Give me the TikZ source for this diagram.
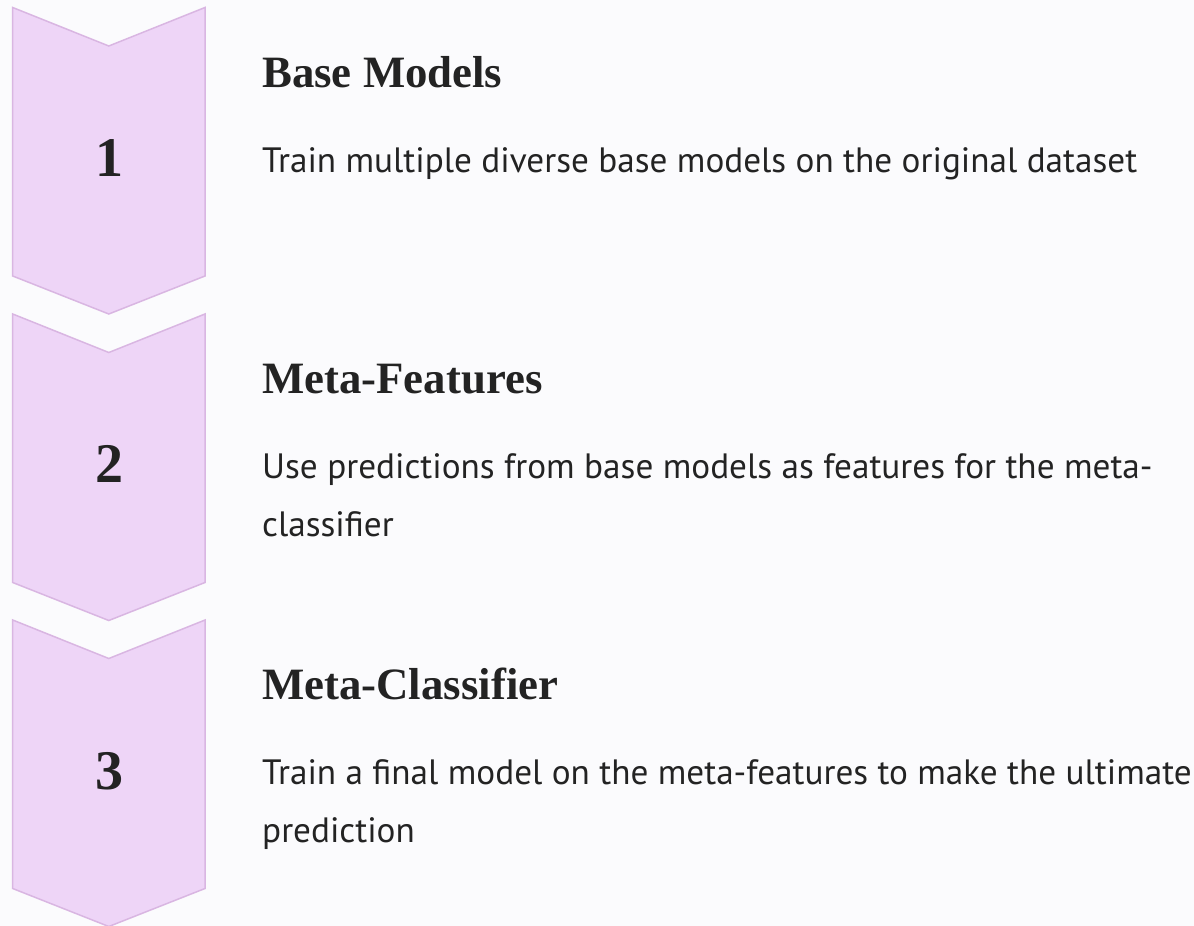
\documentclass[tikz,border=0pt]{standalone}
\usepackage{fontspec}
\setmainfont{Liberation Serif}
\newfontfamily\headfont{Liberation Serif}
\newfontfamily\bodyfont{PT Sans}
\definecolor{chev}{HTML}{EED5F7}
\definecolor{chevline}{HTML}{D9B6E2}
\definecolor{ink}{HTML}{232323}
\definecolor{bg}{HTML}{FBFBFD}
\newlength\bodyw
\AtBeginDocument{%
  \settowidth\bodyw{\bodyfont\fontsize{10}{12}\selectfont Train multiple diverse base models on the original dataset}%
  \pgfmathsetmacro\bodysize{8750/\bodyw}%
  \xdef\bodysize{\bodysize}%
}
\tikzset{
  chevshape/.style={fill=chev, draw=chevline, line width=1.5pt, line join=miter},
  numtxt/.style={font=\headfont\bfseries\fontsize{56}{60}\selectfont, text=ink, inner sep=0pt, anchor=center},
  headtxt/.style={font=\headfont\bfseries\fontsize{44.8}{50}\selectfont, text=ink, anchor=base west, inner sep=0pt},
  bodytxt/.style={font=\bodyfont\fontsize{\bodysize}{\bodysize}\selectfont, text=ink, anchor=base west, inner sep=0pt},
}
\begin{document}
\begin{tikzpicture}[x=1pt,y=-1pt]
\useasboundingbox (0,0) rectangle (1194,926);
\fill[bg] (0,0) rectangle (1194,926);
% chevrons
\foreach \t in {7.5,314,620}{
  \draw[chevshape] (12.7,\t) -- (108.8,{\t+38.5}) -- (205,\t) -- (205,{\t+268.5})
    -- (108.8,{\t+306.5}) -- (12.7,{\t+268.5}) -- cycle;
}
% numbers
\node[numtxt] (n1) at (109,158) {1};
\node[numtxt] (n2) at (109,464) {2};
\node[numtxt] (n3) at (109,771) {3};
% headings
\node[headtxt] (h1) at (262,87) {Base Models};
\node[headtxt] (h2) at (262,393) {Meta-Features};
\node[headtxt] (h3) at (262,699) {Meta-Classifier};
% bodies
\node[bodytxt] (b1) at (262,172) {Train multiple diverse base models on the original dataset};
\node[bodytxt] (b2a) at (262,478) {Use predictions from base models as features for the meta-};
\node[bodytxt] (b2b) at (262,536) {classifier};
\node[bodytxt] (b3a) at (262,784) {Train a final model on the meta-features to make the ultimate};
\node[bodytxt] (b3b) at (262,842) {prediction};
\end{tikzpicture}
\end{document}
